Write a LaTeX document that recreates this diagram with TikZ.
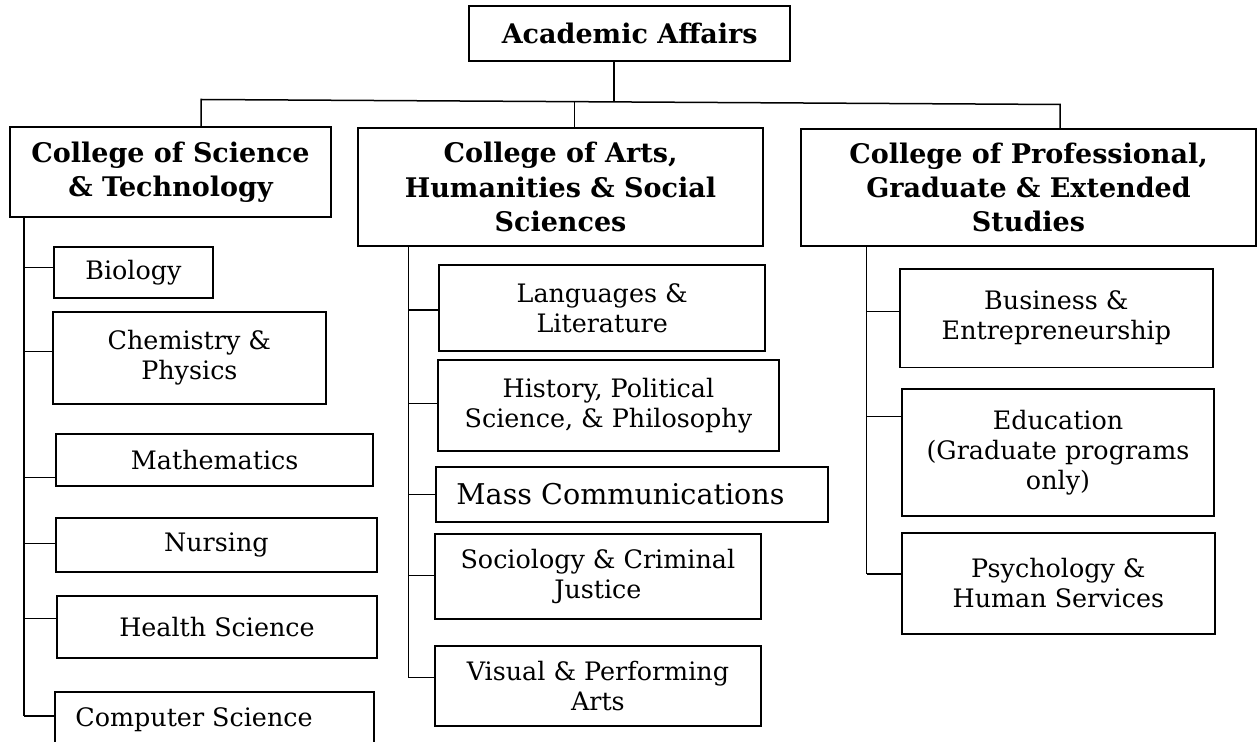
\documentclass[tikz,border=0pt]{standalone}
\usepackage{fontspec}
\setmainfont{DejaVu Serif}
\tikzset{
unit/.style={draw, line width=0.95pt, align=center, inner sep=0pt, font=\fontsize{12.7}{15}\selectfont},
college/.style={unit, font=\bfseries\fontsize{13.5}{17.2}\selectfont},
link/.style={line width=0.75pt}
}

\begin{document}
\begin{tikzpicture}[x=0.5pt, y=-0.5pt]
\useasboundingbox (0,0) rectangle (1258,742);
\clip (0,0) rectangle (1258,742);

\node[college, minimum width=160.4pt, minimum height=27.8pt] (aa) at (629.7,33.5) {Academic Affairs};
\node[college, minimum width=160.5pt, minimum height=45.2pt] (cst) at (170.5,172.2) {College of Science\\ \& Technology};
\node[college, minimum width=202.2pt, minimum height=58.9pt] (cahss) at (560.5,187.2) {College of Arts,\\ Humanities \& Social\\ Sciences};
\node[college, minimum width=227.5pt, minimum height=58.6pt] (cpges) at (1028.5,187.5) {College of Professional,\\ Graduate \& Extended\\ Studies};

\coordinate (busl) at (201,99.5);
\coordinate (busr) at (1060,104.5);
\draw[link] (614,0 |- aa.south) -- (614,101.9);
\draw[link] (busl |- cst.north) -- (busl) -- (busr) -- (busr |- cpges.north);
\draw[link] (574.3,101.7) -- (574.3,0 |- cahss.north);

\node[unit, minimum width=79.7pt, minimum height=25.7pt] (bio) at (133.4,272.7) {Biology};
\node[unit, minimum width=136.4pt, minimum height=45.7pt] (chem) at (189.4,358) {Chemistry \&\\ Physics};
\node[unit, minimum width=158.7pt, minimum height=25.9pt] (math) at (214.7,460.2) {Mathematics};
\node[unit, minimum width=160.4pt, minimum height=27pt] (nurs) at (216.4,545.3) {Nursing};
\node[unit, minimum width=159.7pt, minimum height=30.9pt] (hlth) at (217,626.9) {Health Science};
\node[unit, minimum width=159.5pt, minimum height=28.3pt] (comp) at (214.5,720) {Computer Science\hspace*{20.5pt}};

\node[unit, minimum width=162.9pt, minimum height=43.2pt] (lang) at (602.2,307.9) {Languages \&\\ Literature};
\node[unit, minimum width=170.7pt, minimum height=45.5pt] (hist) at (608.4,405.5) {History, Political\\ Science, \& Philosophy};
\node[unit, minimum width=196pt, minimum height=27.5pt, font=\fontsize{14.3}{17}\selectfont] (mass) at (631.7,494.2) {Mass Communications\hspace*{11.2pt}};
\node[unit, minimum width=162.9pt, minimum height=42.7pt] (soc) at (597.9,576.7) {Sociology \& Criminal\\ Justice};
\node[unit, minimum width=162.9pt, minimum height=39.9pt] (vis) at (597.9,685.9) {Visual \& Performing\\ Arts};

\node[unit, minimum width=156.4pt, minimum height=49.4pt] (biz) at (1056.4,318.1) {Business \&\\ Entrepreneurship};
\node[unit, minimum width=156.3pt, minimum height=63.4pt] (edu) at (1058,452.3) {Education\\ (Graduate programs\\ only)};
\node[unit, minimum width=156.7pt, minimum height=50.8pt] (psy) at (1058.4,583.5) {Psychology \&\\ Human Services};

\draw[link] (24,0 |- cst.south) -- (24,716);
\foreach \n/\y in {bio/267.7, chem/351.7, math/477.7, nurs/543.3, hlth/618.3, comp/716}
  \draw[link] (24,\y) -- (\n.west |- 0,\y);

\draw[link] (408.3,0 |- cahss.south) -- (408.3,677.7);
\foreach \n/\y in {lang/310, hist/403.3, mass/494.3, soc/575.3, vis/677.7}
  \draw[link] (408.3,\y) -- (\n.west |- 0,\y);

\draw[link] (866.7,0 |- cpges.south) -- (866.7,574);
\foreach \n/\y in {biz/311.7, edu/416.4, psy/574}
  \draw[link] (866.7,\y) -- (\n.west |- 0,\y);
\end{tikzpicture}
\end{document}
